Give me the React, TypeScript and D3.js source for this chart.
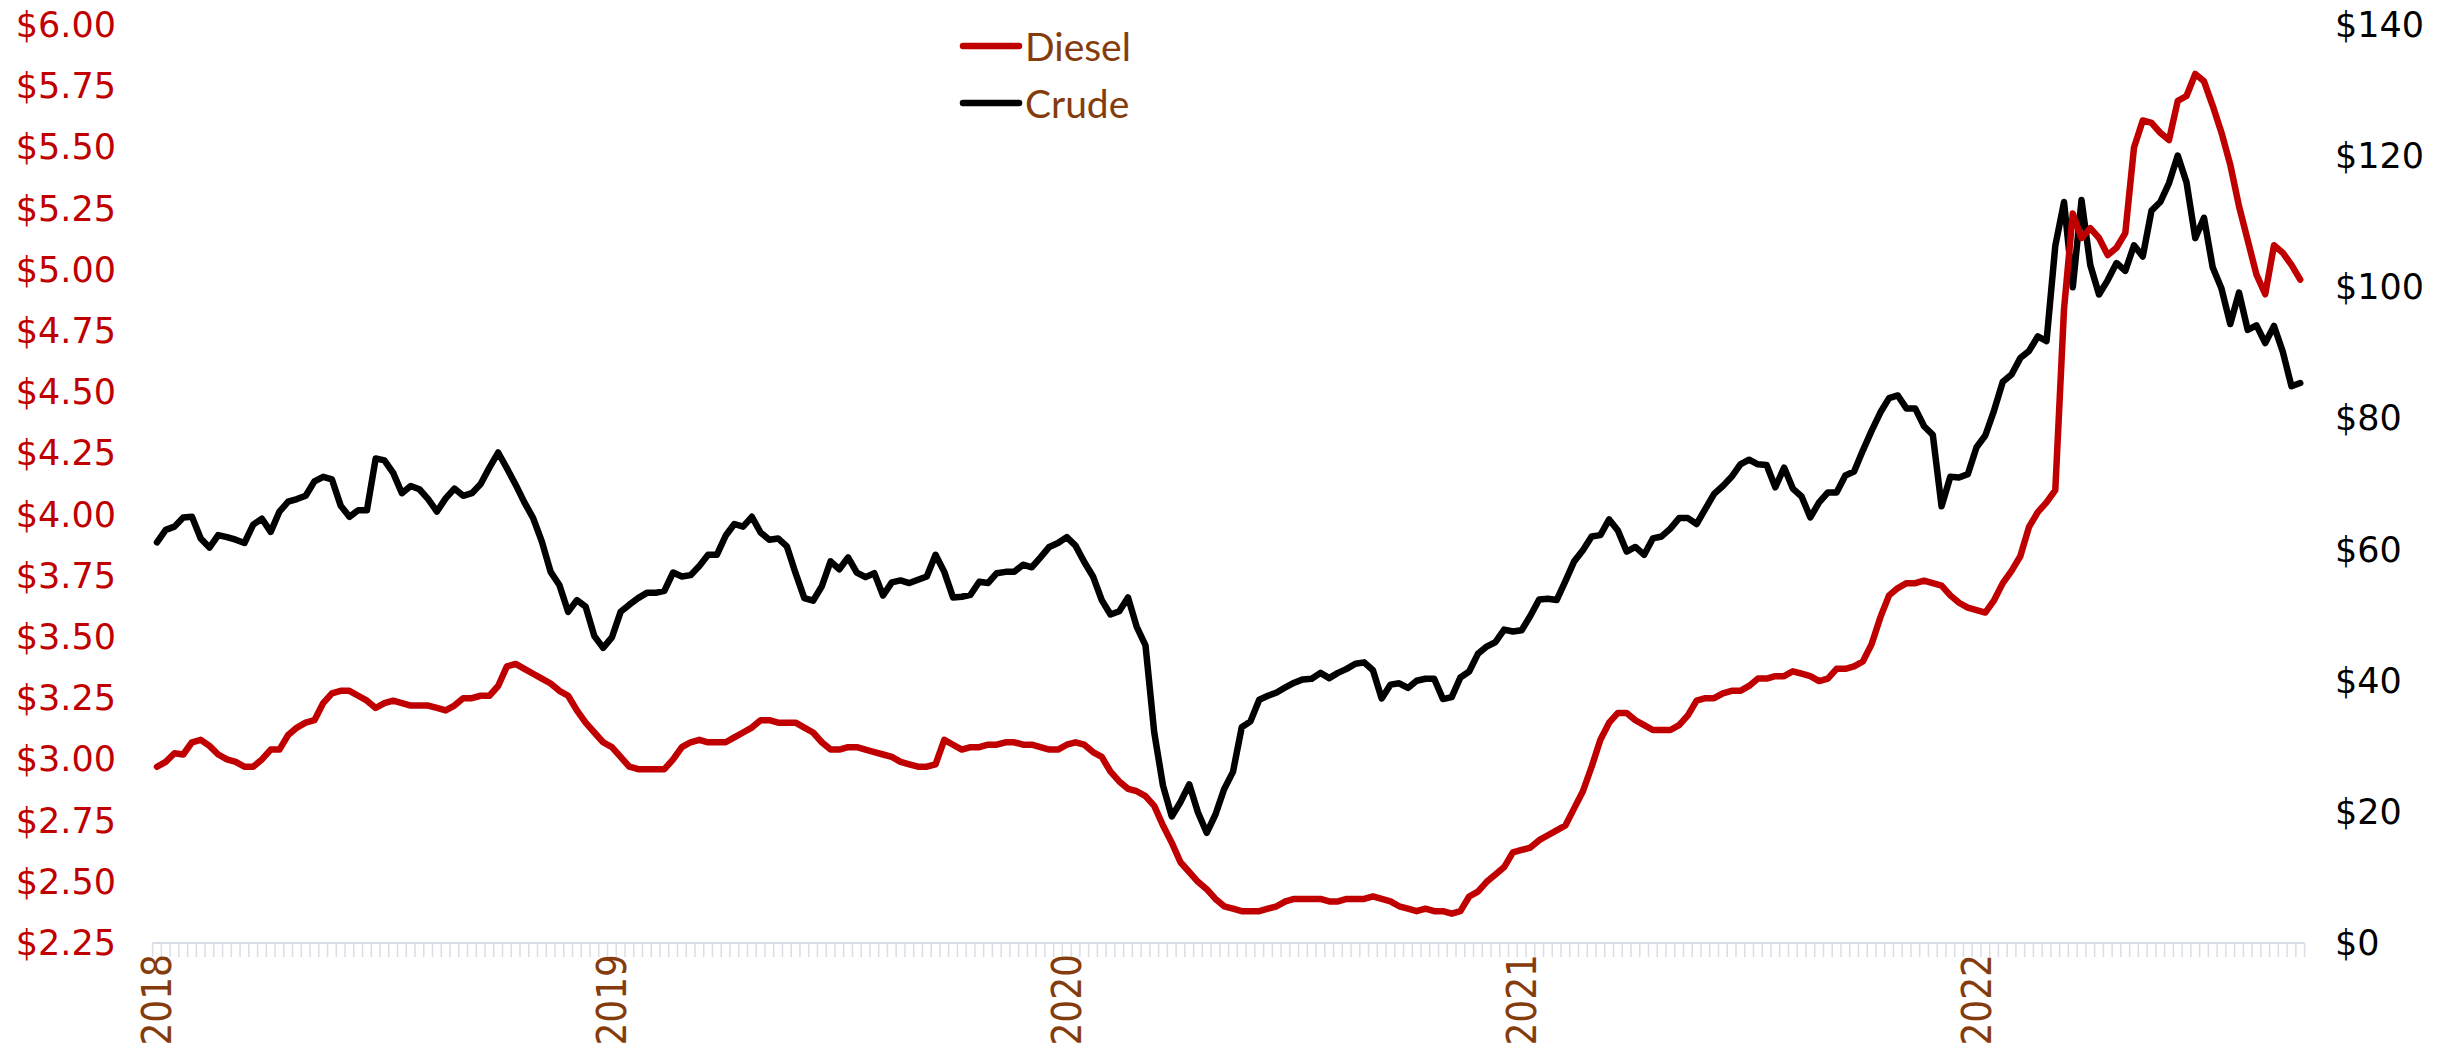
import React from "react";
import * as d3 from "d3";

// Weekly series, first week of 2018 through mid-September 2022
const diesel: number[] = [
  2.97, 2.99, 3.025, 3.02, 3.07, 3.08, 3.055, 3.02, 3.0, 2.99, 2.97, 2.97, 3.0, 3.04, 3.04, 3.1, 3.13, 3.15, 3.16, 3.23,
  3.27, 3.28, 3.28, 3.26, 3.24, 3.21, 3.23, 3.24, 3.23, 3.22, 3.22, 3.22, 3.21, 3.2, 3.22, 3.25, 3.25, 3.26, 3.26, 3.3,
  3.38, 3.39, 3.37, 3.35, 3.33, 3.31, 3.28, 3.26,
  3.2, 3.15, 3.11, 3.07, 3.05, 3.01, 2.97, 2.96, 2.96, 2.96, 2.96, 3.0, 3.05, 3.07, 3.08, 3.07, 3.07, 3.07, 3.09, 3.11,
  3.13, 3.16, 3.16, 3.15, 3.15, 3.15, 3.13, 3.11, 3.07, 3.04, 3.04, 3.05, 3.05, 3.04, 3.03, 3.02, 3.01, 2.99, 2.98, 2.97,
  2.97, 2.98, 3.08, 3.06, 3.04, 3.05, 3.05,
  3.06, 3.06, 3.07, 3.07, 3.06, 3.06, 3.05, 3.04, 3.04, 3.06, 3.07, 3.06, 3.03, 3.01, 2.95, 2.91, 2.88, 2.87, 2.85, 2.81,
  2.73, 2.66, 2.58, 2.54, 2.5, 2.47, 2.43, 2.4, 2.39, 2.38, 2.38, 2.38, 2.39, 2.4, 2.42, 2.43, 2.43, 2.43, 2.43, 2.42,
  2.42, 2.43, 2.43, 2.43, 2.44,
  2.43, 2.42, 2.4, 2.39, 2.38, 2.39, 2.38, 2.38, 2.37, 2.38, 2.44, 2.46, 2.5, 2.53, 2.56, 2.62, 2.63, 2.64, 2.67, 2.69,
  2.71, 2.73, 2.8, 2.87, 2.97, 3.08, 3.15, 3.19, 3.19, 3.16, 3.14, 3.12, 3.12, 3.12, 3.14, 3.18, 3.24, 3.25, 3.25, 3.27,
  3.28, 3.28, 3.3, 3.33, 3.33, 3.34, 3.34,
  3.36, 3.35, 3.34, 3.32, 3.33, 3.37, 3.37, 3.38, 3.4, 3.47, 3.58, 3.67, 3.7, 3.72, 3.72, 3.73, 3.72, 3.71, 3.67, 3.64,
  3.62, 3.61, 3.6, 3.65, 3.72, 3.77, 3.83, 3.95, 4.01, 4.05, 4.1, 4.84, 5.23, 5.13, 5.17, 5.13, 5.06, 5.09, 5.15, 5.5,
  5.61, 5.6, 5.56, 5.53, 5.69, 5.71, 5.8, 5.77, 5.67, 5.56, 5.43, 5.26, 5.12, 4.98, 4.9, 5.1, 5.07, 5.02, 4.96,
];

const crude: number[] = [
  61.1, 63.0, 63.5, 64.9, 65.0, 61.7, 60.3, 62.2, 61.9, 61.5, 61.0, 63.8, 64.7, 62.7, 65.8, 67.3, 67.7, 68.2, 70.4, 71.1,
  70.7, 66.7, 65.0, 66.0, 66.0, 73.9, 73.6, 71.7, 68.6, 69.7, 69.2, 67.7, 65.8, 67.8, 69.3, 68.2, 68.6, 70.0, 72.5, 74.8,
  72.4, 69.9, 67.2, 64.8, 61.2, 56.6, 54.6, 50.5,
  52.3, 51.3, 46.8, 45.0, 46.6, 50.5, 51.6, 52.6, 53.4, 53.4, 53.7, 56.5, 55.9, 56.1, 57.5, 59.2, 59.2, 62.1, 63.9, 63.5,
  65.0, 62.6, 61.5, 61.7, 60.5, 56.4, 52.6, 52.2, 54.4, 58.2, 57.0, 58.8, 56.5, 55.8, 56.4, 53.0, 55.0, 55.3, 54.9, 55.4,
  55.9, 59.2, 56.6, 52.7, 52.8, 53.1, 55.1,
  54.9, 56.4, 56.6, 56.6, 57.7, 57.3, 58.8, 60.4, 61.0, 61.9, 60.6, 58.1, 55.9, 52.3, 50.1, 50.6, 52.7, 48.2, 45.4, 32.1,
  24.0, 19.3, 21.5, 24.2, 19.9, 16.8, 19.6, 23.5, 26.1, 32.9, 33.8, 37.1, 37.7, 38.2, 39.0, 39.7, 40.2, 40.3, 41.2, 40.4,
  41.2, 41.8, 42.6, 42.8, 41.6,
  37.3, 39.4, 39.6, 38.9, 40.0, 40.3, 40.3, 37.2, 37.5, 40.5, 41.4, 44.1, 45.2, 45.9, 47.8, 47.5, 47.7, 49.9, 52.4, 52.5,
  52.3, 55.2, 58.2, 59.9, 62.0, 62.2, 64.6, 62.9, 59.7, 60.4, 59.2, 61.7, 62.0, 63.2, 64.8, 64.8, 63.9, 66.2, 68.5, 69.7,
  71.1, 73.0, 73.7, 73.0, 72.9, 69.5, 72.5,
  69.3, 68.1, 64.9, 67.2, 68.7, 68.7, 71.3, 71.9, 75.1, 78.1, 80.9, 83.1, 83.5, 81.5, 81.5, 78.8, 77.5, 66.6, 71.1, 71.0,
  71.5, 75.6, 77.4, 81.2, 85.6, 86.7, 89.2, 90.3, 92.5, 91.8, 106.3, 113.0, 100.0, 113.3, 103.4, 98.9, 101.1, 103.7, 102.5, 106.4,
  104.7, 111.7, 113.0, 115.9, 120.1, 116.0, 107.5, 110.6, 103.0, 99.8, 94.4, 99.2, 93.5, 94.2, 91.5, 94.1, 90.2, 84.9, 85.4,
];

const firstWeek = new Date(2018, 0, 7);
const weeks: Date[] = diesel.map((_, i) => d3.timeWeek.offset(firstWeek, i));
const yearLabelEvery = 52;

const dieselTicks: number[] = [2.25, 2.5, 2.75, 3.0, 3.25, 3.5, 3.75, 4.0, 4.25, 4.5, 4.75, 5.0, 5.25, 5.5, 5.75, 6.0];
const crudeTicks: number[] = [0, 20, 40, 60, 80, 100, 120, 140];

const seriesNames = ["Diesel", "Crude"];

const W = 2460;
const H = 1061;
const plot = { left: 152.6, right: 2304.6, top: 25, bottom: 943 };

const RED = "#C00000";
const BROWN = "#843C0C";
const AXIS = "#D9DDE6";

export default function App() {
  const idx = weeks.map((_, i) => i);
  const x = d3.scaleBand<number>().domain(idx).range([plot.left, plot.right]).paddingInner(0).paddingOuter(0);
  const bw = x.bandwidth();
  const cx = (i: number) => (x(i) as number) + bw / 2;
  const yL = d3.scaleLinear().domain([2.25, 6]).range([plot.bottom, plot.top]);
  const yR = d3.scaleLinear().domain([0, 140]).range([plot.bottom, plot.top]);

  const dieselLine = d3.line<number>().x((_, i) => cx(i)).y((d) => yL(d));
  const crudeLine = d3.line<number>().x((_, i) => cx(i)).y((d) => yR(d));

  const tickXs = idx.map((i) => x(i) as number).concat([plot.right]);

  return (
    <svg width={W} height={H} style={{ position: "absolute", left: 0, top: 0, background: "#fff" }}>
      <rect x={0} y={0} width={W} height={H} fill="#fff" />
      {/* category axis */}
      <line x1={plot.left} x2={plot.right} y1={plot.bottom} y2={plot.bottom} stroke={AXIS} strokeWidth={2} />
      {tickXs.map((tx, i) => (
        <line key={i} x1={tx} x2={tx} y1={plot.bottom} y2={plot.bottom + 14} stroke={AXIS} strokeWidth={1.5} />
      ))}
      {/* left axis labels */}
      {dieselTicks.map((t) => (
        <text
          key={t}
          x={116}
          y={yL(t)}
          textAnchor="end"
          dominantBaseline="central"
          fill={RED}
          fontFamily="DejaVu Sans, Verdana, sans-serif"
          fontSize={35}
        >
          {"$" + t.toFixed(2)}
        </text>
      ))}
      {/* right axis labels */}
      {crudeTicks.map((t) => (
        <text
          key={t}
          x={2335}
          y={yR(t)}
          textAnchor="start"
          dominantBaseline="central"
          fill="#000"
          fontFamily="DejaVu Sans, Verdana, sans-serif"
          fontSize={35}
        >
          {"$" + t}
        </text>
      ))}
      {/* year labels */}
      {weeks.map((d, i) =>
        i % yearLabelEvery === 0 ? (
          <text
            key={"y" + i}
            transform={`translate(${cx(i)},${plot.bottom + 11}) rotate(-90)`}
            textAnchor="end"
            dominantBaseline="central"
            fill={BROWN}
            fontFamily="Liberation Sans Narrow, DejaVu Sans Condensed, sans-serif"
            fontSize={40}
          >
            {d3.timeFormat("%Y")(d)}
          </text>
        ) : null
      )}
      {/* series */}
      <path d={crudeLine(crude) || ""} fill="none" stroke="#000" strokeWidth={6.5} strokeLinejoin="round" strokeLinecap="round" />
      <path d={dieselLine(diesel) || ""} fill="none" stroke={RED} strokeWidth={6.5} strokeLinejoin="round" strokeLinecap="round" />
      {/* legend */}
      {seriesNames.map((name, k) => (
        <g key={name} transform={`translate(0,${46 + k * 57})`}>
          <line x1={963} x2={1019} y1={0} y2={0} stroke={k === 0 ? RED : "#000"} strokeWidth={6.5} strokeLinecap="round" />
          <text x={1025} y={0} dominantBaseline="central" fill={BROWN} fontFamily="Lato, Open Sans, sans-serif" fontSize={39}>
            {name}
          </text>
        </g>
      ))}
    </svg>
  );
}
